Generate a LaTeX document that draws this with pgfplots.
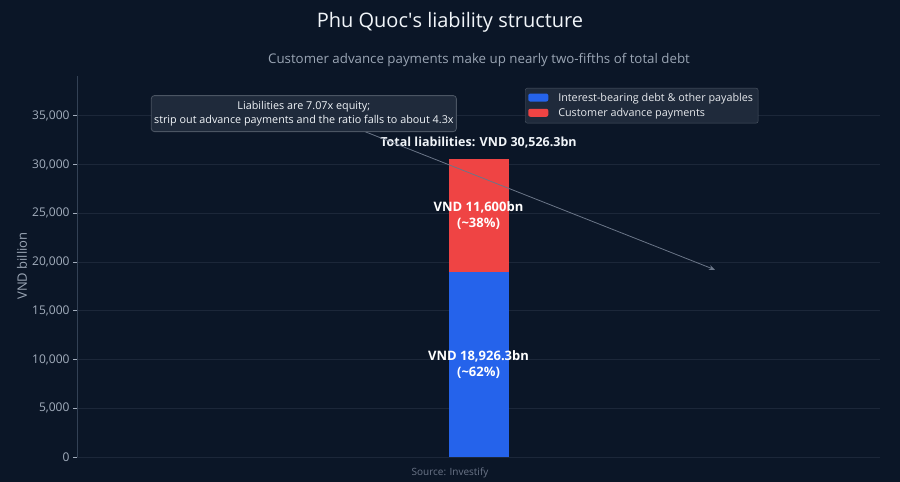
\documentclass[border=0pt]{standalone}
\usepackage{pgfplots}
\pgfplotsset{compat=1.18}
\usepackage{fontspec}
\setmainfont{Open Sans}
\usetikzlibrary{arrows.meta}

\definecolor{bgc}{HTML}{0B1627}
\definecolor{gridc}{HTML}{1C2739}
\definecolor{spinec}{HTML}{334155}
\definecolor{tickc}{HTML}{A3AEBD}
\definecolor{subc}{HTML}{9AA5B4}
\definecolor{srcc}{HTML}{6B7588}
\definecolor{titc}{HTML}{F1F5F9}
\definecolor{debtc}{HTML}{2563EB}
\definecolor{advc}{HTML}{EF4444}
\definecolor{boxc}{HTML}{1F2A3B}
\definecolor{boxline}{HTML}{4B5563}
\definecolor{arrc}{HTML}{6B7688}

\begin{document}
\begin{tikzpicture}
\fill[bgc] (0,0) rectangle (900pt,482pt);
\useasboundingbox (0,0) rectangle (900pt,482pt);

% titles
\node[text=titc, font=\fontsize{20}{23}\selectfont] at (450pt,460pt) {Phu Quoc\textquotesingle s liability structure};
\node[text=subc, font=\fontsize{13.3}{15}\selectfont] at (479pt,422pt) {Customer advance payments make up nearly two-fifths of total debt};
\node[text=subc, rotate=90, font=\fontsize{13}{15}\selectfont] at (22pt,216pt) {VND billion};
\node[text=srcc, font=\fontsize{10}{12}\selectfont] at (450pt,9pt) {Source: Investify};

\begin{axis}[
  at={(77pt,25pt)}, anchor=south west,
  scale only axis, width=803pt, height=381pt,
  xmin=-1, xmax=1, ymin=0, ymax=39073,
  ybar stacked, bar width=60pt,
  xtick=\empty,
  ytick={0,5000,...,35000},
  scaled y ticks=false,
  yticklabel style={text=tickc, font=\fontsize{12}{14}\selectfont},
  /pgf/number format/.cd, 1000 sep={,}, assume math mode=true,
  /pgfplots/.cd,
  ymajorgrids, grid style={gridc, line width=0.8pt},
  axis x line*=bottom, axis y line*=left,
  x axis line style={gridc, line width=0.8pt, -},
  y axis line style={spinec, line width=0.8pt, -},
  major tick style={tickc, line width=0.6pt},
  major tick length=4pt,
  tick align=outside,
  legend cell align=left,
  legend style={at={(0.558,0.9685)}, anchor=north west,
    fill=boxc, draw=boxline, rounded corners=2pt,
    text=titc!90!gray, font=\fontsize{10.8}{13}\selectfont,
    row sep=1.5pt, inner xsep=3pt, inner ysep=3pt},
  legend image code/.code={\fill[#1] (0pt,-3.5pt) rectangle (20pt,4.5pt); \path (28pt,0pt);},
  after end axis/.append code={
    \node[text=white, font=\bfseries\fontsize{13}{16}\selectfont, align=center]
      at (axis cs:0,9463) {VND 18,926.3bn\\(\textasciitilde62\%)};
    \node[text=white, font=\bfseries\fontsize{13}{16}\selectfont, align=center]
      at (axis cs:0,24726) {VND 11,600bn\\(\textasciitilde38\%)};
    \node[text=titc, font=\bfseries\fontsize{12.5}{15}\selectfont]
      at (axis cs:0,32200) {Total liabilities: VND 30,526.3bn};
    \draw[arrc, line width=0.8pt, -{Stealth[length=6pt,width=5pt]}]
      (axis cs:-0.283,33370) -- (axis cs:0.589,19200);
    \node[fill=boxc, draw=boxline, rounded corners=3pt, line width=0.8pt,
      text=titc, align=center, font=\fontsize{10.8}{14.5}\selectfont,
      minimum width=305pt, minimum height=36pt, inner sep=2pt]
      at (axis cs:-0.435,35216)
      {Liabilities are 7.07x equity;\\strip out advance payments and the ratio falls to about 4.3x};
  },
]
\addplot[fill=debtc, draw=none] coordinates {(0,18926.3)};
\addlegendentry{Interest-bearing debt \& other payables}
\addplot[fill=advc, draw=none] coordinates {(0,11600)};
\addlegendentry{Customer advance payments}
\end{axis}
\end{tikzpicture}
\end{document}
